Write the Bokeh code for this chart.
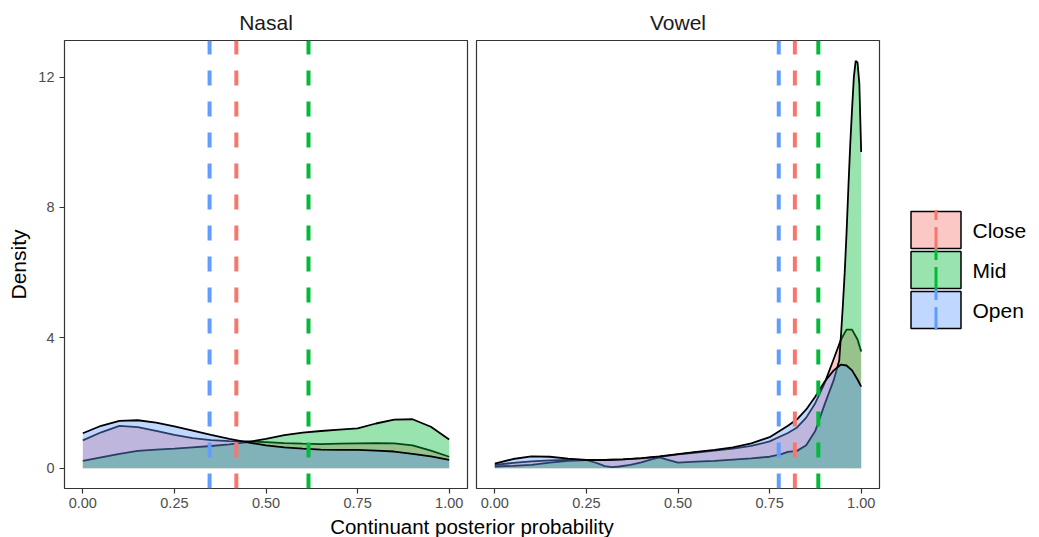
from bokeh.plotting import figure
from bokeh.layouts import row, column
from bokeh.models import Range1d, FixedTicker
from bokeh.embed import file_html
from bokeh.resources import INLINE
from bokeh.core.properties import value

FONT = "Liberation Sans"

groups = ["Close", "Mid", "Open"]
colors = ["#F8766D", "#00BA38", "#619CFF"]
panels = ["Nasal", "Vowel"]
x_title = "Continuant posterior probability"
y_title = "Density"
x_ticks = [0, 0.25, 0.5, 0.75, 1.0]
x_tick_labels = ["0.00", "0.25", "0.50", "0.75", "1.00"]
y_ticks = [0, 4, 8, 12]
y_tick_labels = ["0", "4", "8", "12"]

# ---- Nasal densities ----
nasal_x = [0.00, 0.05, 0.10, 0.15, 0.20, 0.25, 0.30, 0.35, 0.40, 0.45, 0.50,
           0.55, 0.60, 0.65, 0.70, 0.75, 0.80, 0.85, 0.90, 0.95, 1.00]
nasal_close = [0.85, 1.10, 1.30, 1.26, 1.14, 1.02, 0.92, 0.86, 0.83, 0.82, 0.80,
               0.77, 0.75, 0.74, 0.75, 0.76, 0.77, 0.76, 0.70, 0.54, 0.35]
nasal_mid = [0.22, 0.33, 0.44, 0.53, 0.57, 0.60, 0.64, 0.68, 0.73, 0.80, 0.90,
             1.01, 1.09, 1.14, 1.18, 1.22, 1.37, 1.49, 1.50, 1.27, 0.88]
nasal_open = [1.07, 1.30, 1.45, 1.47, 1.40, 1.28, 1.15, 1.02, 0.90, 0.79, 0.70,
              0.64, 0.60, 0.57, 0.56, 0.56, 0.54, 0.51, 0.44, 0.36, 0.25]

# ---- Vowel densities ----
vowel_x = [0.00, 0.05, 0.10, 0.15, 0.20, 0.25, 0.30, 0.35, 0.40, 0.45, 0.50,
           0.55, 0.60, 0.65, 0.70, 0.75, 0.80, 0.825, 0.85, 0.875, 0.90,
           0.925, 0.945, 0.96, 0.975, 0.99, 1.00]
vowel_close = [0.10, 0.16, 0.21, 0.24, 0.25, 0.25, 0.25, 0.27, 0.30, 0.35, 0.42,
               0.48, 0.54, 0.60, 0.68, 0.82, 1.08, 1.25, 1.55, 2.00, 2.60,
               3.35, 3.95, 4.25, 4.25, 3.95, 3.58]
vowel_open = [0.14, 0.28, 0.36, 0.35, 0.29, 0.25, 0.25, 0.27, 0.31, 0.36, 0.43,
              0.50, 0.56, 0.64, 0.76, 0.95, 1.30, 1.50, 1.80, 2.20, 2.65,
              3.00, 3.18, 3.15, 3.00, 2.72, 2.50]
vowel_mid_x = [0.00, 0.05, 0.10, 0.15, 0.20, 0.25, 0.28, 0.30, 0.32, 0.34, 0.37,
               0.40, 0.43, 0.45, 0.47, 0.50, 0.55, 0.60, 0.65, 0.70, 0.75, 0.78,
               0.80, 0.825, 0.85, 0.875, 0.90, 0.925, 0.94, 0.945, 0.95, 0.955,
               0.96, 0.965, 0.97, 0.975, 0.98, 0.985, 0.99, 0.995, 1.00]
vowel_mid = [0.05, 0.07, 0.10, 0.17, 0.22, 0.25, 0.15, 0.06, 0.03, 0.05, 0.10,
             0.18, 0.28, 0.33, 0.26, 0.17, 0.20, 0.22, 0.26, 0.30, 0.35, 0.42,
             0.50, 0.53, 0.70, 1.15, 1.95, 2.70, 3.30, 4.10, 5.00, 6.00,
             7.20, 8.60, 9.90, 11.00, 12.00, 12.50, 12.45, 11.80, 9.70]

# group means (dashed lines), order Close, Mid, Open
nasal_means = [0.419, 0.616, 0.346]
vowel_means = [0.819, 0.883, 0.775]

panel_curves = {
    "Nasal": [(nasal_x, nasal_close), (nasal_x, nasal_mid), (nasal_x, nasal_open)],
    "Vowel": [(vowel_x, vowel_close), (vowel_mid_x, vowel_mid), (vowel_x, vowel_open)],
}
panel_means = {"Nasal": nasal_means, "Vowel": vowel_means}

Y0, Y1 = -0.625, 13.125
H = 514
TOP, BOTTOM = 40, 26


def make_panel(name, show_y, width, left, right):
    p = figure(width=width, height=H, x_range=Range1d(-0.05, 1.05),
               y_range=Range1d(Y0, Y1), output_backend="svg",
               toolbar_location=None, min_border_left=left,
               min_border_right=right, min_border_top=TOP,
               min_border_bottom=BOTTOM,
               title=name, y_axis_location="left" if show_y else None)
    p.title.align = "center"
    p.title.vertical_align = "top"
    p.title.text_font = FONT
    p.title.text_font_size = "21px"
    p.title.text_font_style = "normal"
    p.title.text_color = "#1a1a1a"
    p.title.standoff = 10
    p.grid.visible = False
    p.outline_line_color = "#333333"
    p.outline_line_width = 1.2
    p.background_fill_color = "white"
    p.border_fill_color = "white"

    for (xs, ys), c in zip(panel_curves[name], colors):
        px = [xs[0]] + list(xs) + [xs[-1]]
        py = [0] + list(ys) + [0]
        p.patch(px, py, fill_color=c, fill_alpha=0.4, line_color=None)
        p.line(xs, ys, line_color="black", line_width=1.8)

    for m, c in zip(panel_means[name], colors):
        p.segment(x0=[m], y0=[Y0], x1=[m], y1=[Y1], line_color=c,
                  line_width=4, line_dash="15 16")

    axes = [p.xaxis[0]] + ([p.yaxis[0]] if show_y else [])
    for ax in axes:
        ax.axis_line_color = None
        ax.major_tick_line_color = "#333333"
        ax.major_tick_line_width = 1.2
        ax.major_tick_out = 5
        ax.major_tick_in = 0
        ax.minor_tick_line_color = None
        ax.major_label_text_font = FONT
        ax.major_label_text_font_size = "14.5px"
        ax.major_label_text_color = "#4d4d4d"
    p.xaxis.ticker = FixedTicker(ticks=x_ticks)
    p.xaxis.major_label_overrides = dict(zip(x_ticks, x_tick_labels))
    p.xaxis.major_label_standoff = 4
    if show_y:
        p.yaxis.ticker = FixedTicker(ticks=y_ticks)
        p.yaxis.major_label_overrides = dict(zip(y_ticks, y_tick_labels))
        p.yaxis.major_label_standoff = 5
        p.yaxis.axis_label = y_title
        p.yaxis.axis_label_text_font = FONT
        p.yaxis.axis_label_text_font_size = "21px"
        p.yaxis.axis_label_text_font_style = "normal"
        p.yaxis.axis_label_text_color = "black"
        p.yaxis.axis_label_standoff = 5
    return p


p1 = make_panel("Nasal", True, 472, 64, 5)
p2 = make_panel("Vowel", False, 417, 4, 10)

# ---- legend (frame aligned with panels; 1 data unit = 1 pixel) ----
LX0 = 889
leg = figure(width=1039 - LX0, height=H, x_range=Range1d(LX0, 1039),
             y_range=Range1d(H - BOTTOM, TOP), output_backend="svg",
             toolbar_location=None, x_axis_location=None, y_axis_location=None,
             min_border_left=0, min_border_right=0, min_border_top=TOP,
             min_border_bottom=BOTTOM, title=None)
leg.grid.visible = False
leg.outline_line_color = None
key_x = 935.5
key_y = [229.5, 269.5, 309.5]
leg.rect(x=[key_x] * 3, y=key_y, width=50, height=37, fill_color=colors,
         fill_alpha=0.4, line_color="black", line_width=1.5)
for ky, c in zip(key_y, colors):
    leg.segment(x0=[key_x], y0=[ky + 20], x1=[key_x], y1=[ky - 20],
                line_color=c, line_width=3, line_dash="23 7")
leg.text(x=[972] * 3, y=key_y, text=groups, text_font=value(FONT),
         text_font_size="21px", text_baseline="middle", text_align="left",
         text_color="black")

# ---- shared x-axis title ----
LH = 537 - H
lab = figure(width=1039, height=LH, x_range=Range1d(0, 1039),
             y_range=Range1d(LH, 0), output_backend="svg", toolbar_location=None,
             x_axis_location=None, y_axis_location=None, min_border_left=0,
             min_border_right=0, min_border_top=0, min_border_bottom=0,
             title=None)
lab.grid.visible = False
lab.outline_line_color = None
lab.text(x=[471.5], y=[0], text=[x_title], text_font=value(FONT),
         text_font_size="20.5px", text_align="center",
         text_baseline="top", text_color="black")

layout = column(row(p1, p2, leg, spacing=0), lab, spacing=0)
open("out.html", "w").write(file_html(layout, INLINE))
